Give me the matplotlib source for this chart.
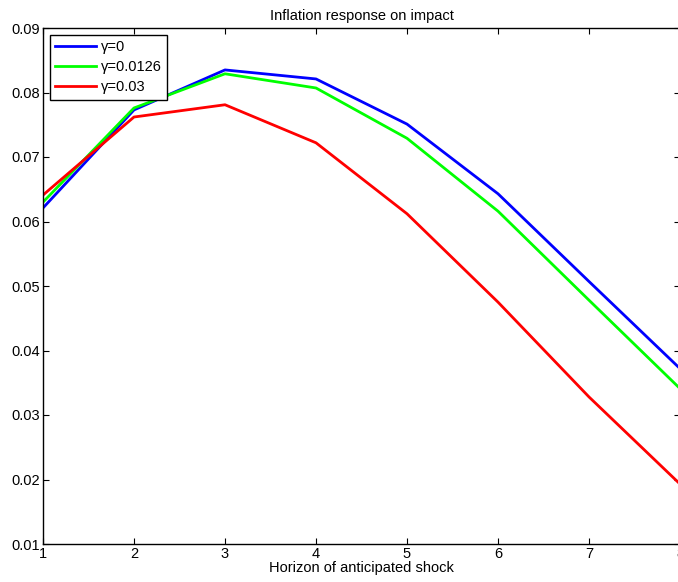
import matplotlib
matplotlib.use('Agg')
import matplotlib.pyplot as plt

plt.rcParams['font.family'] = ['Liberation Sans', 'DejaVu Sans']

horizon = [1, 2, 3, 4, 5, 6, 7, 8]
gamma_0 = [0.0621, 0.0773, 0.0835, 0.0821, 0.0751, 0.0643, 0.0507, 0.0372]
gamma_0126 = [0.0630, 0.0776, 0.0829, 0.0807, 0.0729, 0.0616, 0.0478, 0.0341]
gamma_03 = [0.0641, 0.0762, 0.0781, 0.0722, 0.0612, 0.0475, 0.0328, 0.0193]
labels = [u'γ=0', u'γ=0.0126', u'γ=0.03']

fs = 10.5

fig = plt.figure(figsize=(6.78, 5.82), dpi=100)
ax = fig.add_axes([43 / 678, 38 / 582, 637 / 678, 516 / 582])

ax.plot(horizon, gamma_0, color='#0000ff', lw=2.0, label=labels[0])
ax.plot(horizon, gamma_0126, color='#00ff00', lw=2.0, label=labels[1])
ax.plot(horizon, gamma_03, color='#ff0000', lw=2.0, label=labels[2])

ax.set_xlim(1, 8)
ax.set_ylim(0.01, 0.09)
ax.set_xticks(horizon)
ax.set_yticks([0.01, 0.02, 0.03, 0.04, 0.05, 0.06, 0.07, 0.08, 0.09])
ax.set_yticklabels(['0.01', '0.02', '0.03', '0.04', '0.05', '0.06', '0.07', '0.08', '0.09'])
ax.tick_params(direction='in', top=True, right=True, labelsize=fs, length=4.5, pad=2)
for s in ax.spines.values():
    s.set_linewidth(1.0)

ax.set_title('Inflation response on impact', fontsize=fs, pad=6)
ax.set_xlabel('Horizon of anticipated shock', fontsize=fs, labelpad=0)

leg = ax.legend(loc='upper left', fontsize=fs, fancybox=False, framealpha=1,
                edgecolor='black', borderaxespad=0.45, handlelength=2.8,
                labelspacing=0.4, borderpad=0.4, handletextpad=0.3)
leg.get_frame().set_linewidth(1.0)

fig.savefig('out.png', dpi=100)
